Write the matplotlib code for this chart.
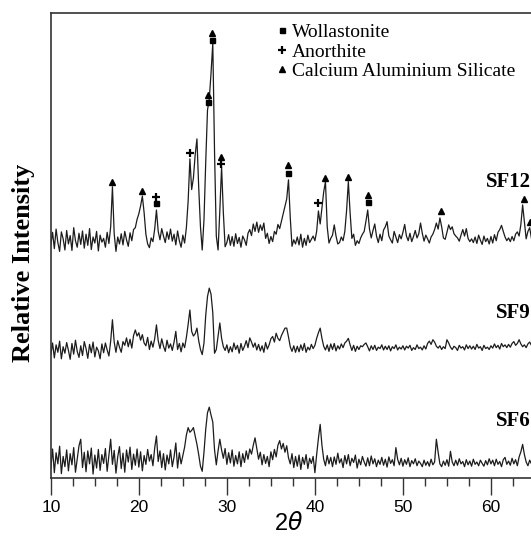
import numpy as np
import matplotlib
matplotlib.use('Agg')
import matplotlib.pyplot as plt
from matplotlib.ticker import MultipleLocator

# 2-theta sampling grid (degrees)
two_theta = np.round(np.arange(10.0, 64.81, 0.2), 1)

# intensities (arbitrary units, offset traces)
sf12 = [
    50.1, 52.8, 49.3, 53.5, 50.6, 48.7, 52.9, 51.4, 49.0, 53.2,
    50.3, 52.1, 48.9, 53.8, 51.0, 49.6, 52.6, 50.2, 53.1, 49.4,
    52.4, 50.0, 53.6, 49.1, 51.8, 50.5, 53.0, 48.8, 52.2, 50.7,
    51.5, 49.6, 52.8, 50.4, 54.0, 62.6, 52.5, 48.7, 51.8, 50.3,
    52.5, 50.1, 53.0, 51.2, 49.8, 52.7, 51.0, 53.4, 53.8, 55.6,
    56.8, 58.5, 60.6, 57.0, 52.4, 50.3, 49.5, 51.6, 50.8, 53.5,
    57.6, 53.0, 51.2, 53.6, 52.0, 50.6, 52.9, 51.3, 53.5, 50.9,
    52.4, 50.1, 53.1, 51.0, 49.6, 52.2, 50.5, 53.8, 59.5, 68.6,
    62.0, 64.5, 69.5, 72.9, 62.5, 54.0, 49.0, 55.5, 68.0, 79.1,
    81.5, 87.0, 93.5, 70.0, 52.0, 49.0, 57.5, 66.9, 57.0, 49.7,
    50.6, 52.3, 50.0, 51.9, 49.8, 52.5, 50.4, 51.7, 49.6, 52.0,
    51.2, 50.0, 52.6, 53.4, 52.1, 54.6, 53.0, 55.0, 52.8, 54.4,
    53.2, 54.8, 51.5, 52.6, 50.4, 51.9, 50.8, 53.0, 52.4, 54.5,
    53.6, 55.2, 56.8, 58.5, 60.0, 64.1, 56.0, 49.8, 51.2, 50.3,
    51.8, 50.1, 52.4, 49.6, 51.5, 50.0, 52.2, 50.6, 51.3, 52.0,
    51.0, 53.0, 57.4, 54.6, 58.0, 61.5, 63.7, 54.0, 50.5, 51.5,
    52.2, 54.4, 52.0, 50.3, 50.6, 51.8, 51.0, 53.0, 57.5, 63.7,
    57.0, 51.5, 52.4, 50.0, 51.0, 50.4, 51.6, 52.4, 53.0, 55.2,
    57.6, 53.5, 51.6, 53.2, 54.6, 52.0, 50.6, 52.4, 51.0, 53.3,
    54.0, 55.1, 52.0, 51.2, 50.5, 53.0, 51.8, 50.6, 52.3, 51.4,
    52.8, 54.5, 52.0, 51.0, 52.6, 50.8, 51.9, 53.2, 51.6, 52.5,
    54.8, 52.6, 50.9, 52.2, 51.4, 50.5, 51.8, 52.4, 53.4, 54.8,
    53.5, 55.9, 54.0, 51.6, 51.3, 52.8, 54.4, 53.4, 54.0, 52.5,
    52.0, 51.6, 50.9, 52.2, 53.4, 52.0, 53.6, 51.5, 50.8, 51.4,
    50.6, 51.8, 50.4, 52.2, 51.1, 50.2, 52.0, 50.8, 51.5, 50.3,
    51.9, 50.5, 52.3, 51.0, 52.8, 53.4, 54.3, 53.0, 51.8, 51.0,
    51.6, 50.8, 51.9, 51.0, 52.4, 52.9, 52.0, 54.5, 58.7, 55.0,
    51.4, 53.0, 53.8, 51.5, 50.6,
]

sf9 = [
    26.5, 29.0, 25.8, 28.6, 27.0, 29.4, 25.6, 28.2, 26.8, 29.1,
    27.4, 25.5, 28.9, 26.6, 29.6, 27.2, 25.9, 28.4, 26.3, 29.3,
    27.8, 25.7, 28.7, 26.9, 29.2, 26.0, 28.1, 27.3, 25.6, 28.8,
    26.9, 29.0, 27.5, 26.2, 29.4, 34.0, 29.2, 27.0, 29.5, 28.1,
    27.0, 29.3, 28.5, 30.1, 28.2, 29.8, 27.9, 30.6, 31.8, 30.5,
    31.2, 29.6, 30.8, 29.0, 28.4, 30.2, 27.6, 29.4, 28.1, 29.9,
    32.9, 29.5, 27.8, 29.9, 28.3, 27.2, 29.6, 27.9, 28.8, 27.4,
    29.2, 31.5, 27.6, 28.9, 27.1, 29.0, 28.0, 30.2, 33.0, 36.1,
    31.5, 30.5, 31.0, 32.2, 29.5, 27.6, 26.5, 29.0, 35.0, 39.0,
    40.8, 39.5, 35.5, 26.8, 27.6, 30.5, 33.3, 30.0, 28.2, 27.4,
    28.6, 26.9, 28.2, 27.1, 29.0, 27.6, 28.5, 26.8, 28.9, 27.4,
    28.3, 29.5, 28.0, 30.1, 29.2, 28.1, 29.0, 27.5, 28.7, 27.3,
    28.4, 27.0, 29.1, 27.7, 28.6, 29.9, 30.4, 29.2, 31.1, 30.0,
    29.5, 30.6, 31.4, 32.2, 32.2, 30.3, 28.2, 27.2, 28.4, 27.0,
    28.3, 27.1, 28.6, 27.4, 28.9, 27.0, 28.1, 27.5, 28.7, 27.8,
    28.5, 30.0, 31.2, 32.2, 30.0, 28.3, 27.5, 28.6, 27.2, 28.8,
    27.6, 28.9, 27.3, 28.4, 27.7, 28.8, 28.0, 29.0, 29.4, 30.0,
    28.6, 27.4, 28.5, 27.2, 28.3, 27.6, 28.4, 28.2, 28.7, 29.0,
    28.2, 27.3, 28.4, 27.6, 28.5, 27.4, 28.1, 27.8, 28.6, 27.5,
    28.3, 27.6, 28.4, 27.3, 28.2, 27.8, 28.6, 27.5, 28.1, 27.7,
    28.4, 27.5, 28.3, 27.9, 28.5, 27.4, 28.0, 27.6, 28.6, 27.8,
    28.1, 27.5, 28.4, 27.7, 28.9, 29.4, 28.7, 29.7, 29.2, 28.3,
    27.9, 28.4, 27.6, 28.2, 27.8, 29.7, 29.0, 28.1, 27.6, 28.3,
    28.0, 27.4, 28.5, 27.9, 28.2, 27.5, 28.6, 27.8, 28.4, 27.7,
    28.3, 27.6, 28.7, 27.9, 28.2, 27.4, 28.5, 27.8, 28.1, 27.6,
    28.4, 27.9, 28.8, 28.0, 28.5, 27.7, 28.9, 28.2, 28.6, 28.0,
    28.7, 28.1, 28.9, 29.3, 28.5, 28.9, 29.7, 28.8, 28.2, 28.6,
    28.0, 28.8, 29.2, 28.5, 28.1,
]

sf6 = [
    2.0, 6.2, 1.1, 5.4, 3.0, 6.8, 0.9, 4.6, 2.4, 6.0,
    1.5, 5.2, 2.8, 6.5, 1.2, 4.1, 6.9, 8.3, 2.2, 5.5,
    1.3, 5.8, 3.0, 6.4, 0.8, 4.9, 2.1, 6.1, 1.6, 5.0,
    3.1, 6.3, 1.4, 4.8, 8.3, 2.9, 5.9, 1.0, 4.5, 6.7,
    2.0, 5.3, 1.2, 6.0, 3.4, 6.6, 1.8, 5.1, 2.7, 6.2,
    2.3, 5.6, 1.5, 4.8, 2.9, 6.1, 3.6, 5.0, 2.6, 6.4,
    9.0, 3.5, 5.8, 2.2, 5.2, 1.7, 4.9, 3.0, 6.0, 2.4,
    4.5, 7.5, 2.1, 5.4, 3.0, 4.8, 6.6, 9.2, 10.8, 9.8,
    10.2, 10.8, 9.0, 7.2, 5.0, 2.5, 1.4, 5.5, 10.5, 14.0,
    15.2, 13.5, 12.0, 6.0, 2.8, 5.8, 8.3, 6.0, 4.2, 6.3,
    2.9, 5.4, 3.2, 6.0, 2.5, 4.8, 3.0, 5.6, 2.4, 5.2,
    3.3, 5.8, 4.0, 6.2, 5.1, 7.0, 8.6, 6.3, 4.0, 5.5,
    2.8, 5.0, 3.1, 4.6, 2.4, 5.6, 3.9, 6.1, 4.5, 7.0,
    8.0, 6.2, 7.4, 5.5, 6.9, 4.3, 3.0, 5.2, 2.2, 4.6,
    2.5, 4.9, 1.8, 4.4, 2.9, 5.0, 2.0, 4.2, 3.1, 4.6,
    1.1, 5.0, 8.5, 11.5, 7.0, 4.0, 2.6, 4.8, 3.0, 4.4,
    2.4, 4.5, 2.9, 5.3, 3.2, 4.1, 2.2, 4.8, 3.0, 5.0,
    2.6, 4.2, 3.3, 4.9, 2.1, 4.0, 2.8, 4.6, 3.4, 2.5,
    4.3, 2.6, 4.7, 3.0, 4.1, 2.4, 3.8, 2.9, 4.4, 2.7,
    4.0, 2.3, 4.5, 3.1, 3.9, 2.6, 6.5, 4.0, 2.8, 4.2,
    2.5, 3.9, 2.9, 4.3, 2.4, 3.7, 3.0, 4.1, 2.6, 3.6,
    3.1, 2.4, 3.8, 2.7, 3.5, 2.5, 4.0, 2.8, 3.4, 8.3,
    5.5, 3.0, 2.4, 3.6, 2.7, 3.9, 2.5, 5.7, 3.4, 2.6,
    3.8, 2.7, 4.1, 3.0, 3.5, 2.4, 3.9, 2.8, 3.6, 2.5,
    4.0, 2.9, 3.4, 2.6, 3.8, 3.1, 2.5, 3.7, 2.8, 4.1,
    3.0, 3.8, 2.6, 4.0, 2.9, 3.5, 2.4, 3.9, 4.4, 2.9,
    3.6, 2.7, 4.2, 3.0, 3.9, 2.6, 4.5, 5.6, 7.2, 5.0,
    3.4, 2.6, 3.8, 3.0, 3.5,
]

# phase markers (peak positions and the height the symbol sits at)
wollastonite_x = [21.9, 27.8, 28.3, 36.9, 46.0]
wollastonite_y = [59.1, 80.9, 94.2, 65.5, 59.4]
anorthite_x = [21.9, 25.8, 29.35, 40.4]
anorthite_y = [60.5, 69.8, 67.5, 59.1]
cas_x = [17.0, 20.4, 27.8, 28.3, 29.35, 36.9, 41.2, 43.8, 46.0, 54.3, 63.7, 64.45]
cas_y = [63.6, 61.6, 82.4, 95.7, 69.1, 67.3, 64.5, 64.8, 60.9, 57.3, 59.9, 55.1]

sample_names = ['SF12', 'SF9', 'SF6']

serif = 'Liberation Serif'
sans = 'Liberation Sans'

fig = plt.figure(figsize=(5.31, 5.37), dpi=100)
ax = fig.add_axes([0.0957, 0.1102, 0.9043, 0.8658])

for trace in [sf12, sf9, sf6]:
    ax.plot(two_theta, trace, color='#1c1c1c', lw=0.9)

ax.plot(wollastonite_x, wollastonite_y, 's', color='black', ms=3.6,
        ls='none', clip_on=False, zorder=5, label='Wollastonite')
ax.plot(anorthite_x, anorthite_y, '+', color='black', ms=5.5, mew=1.6,
        ls='none', clip_on=False, zorder=5, label='Anorthite')
ax.plot(cas_x, cas_y, '^', color='black', ms=4.6,
        ls='none', clip_on=False, zorder=5, label='Calcium Aluminium Silicate')

ax.legend(loc='upper left', bbox_to_anchor=(0.45, 0.998), frameon=False,
          handlelength=0.6, handletextpad=0.2, labelspacing=0.1,
          borderpad=0, prop={'family': serif, 'size': 14})

for name, y in zip(sample_names, [0.636, 0.354, 0.122]):
    ax.text(1.0, y, name, transform=ax.transAxes, ha='right', va='center',
            family=serif, fontweight='bold', fontsize=15)

ax.set_xlim(10, 64.55)
ax.set_ylim(0, 100)
ax.xaxis.set_major_locator(MultipleLocator(10))
ax.xaxis.set_minor_locator(MultipleLocator(2.5))
ax.tick_params(axis='x', which='major', direction='out', length=12, width=1.0,
               pad=4, labelsize=12.5, color='#333333')
ax.tick_params(axis='x', which='minor', direction='out', length=6, width=1.0,
               color='#333333')
for lab in ax.get_xticklabels():
    lab.set_family(sans)
ax.set_yticks([])

ax.spines['right'].set_visible(False)
for s in ['left', 'top', 'bottom']:
    ax.spines[s].set_linewidth(1.2)
    ax.spines[s].set_color('#333333')

fig.text(0.045, 0.51, 'Relative Intensity', rotation=90, ha='center', va='center',
         family=serif, fontweight='bold', fontsize=19)
fig.text(0.543, 0.004, r'2$\theta$', ha='center', va='bottom', family=sans,
         fontsize=17)

fig.savefig('out.png', dpi=100)
